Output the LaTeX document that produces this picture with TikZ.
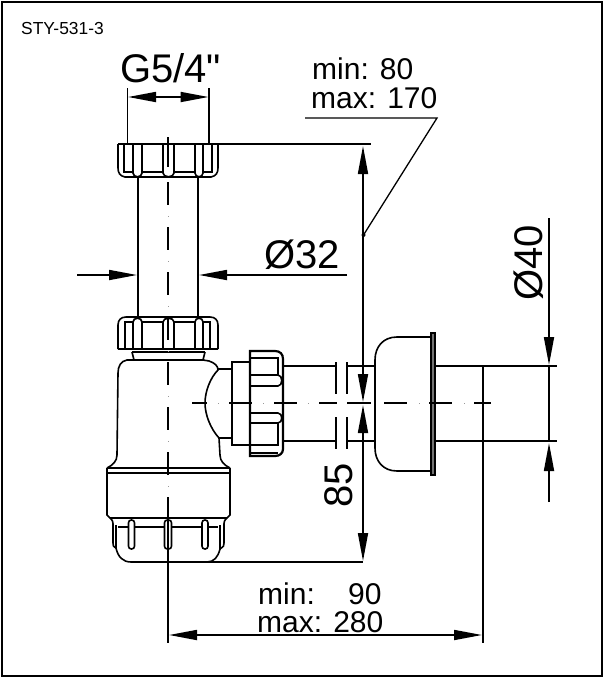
\documentclass[tikz,border=0pt]{standalone}
\usepackage{fontspec}
\setmainfont{Liberation Sans}
\newfontfamily\straightfont{Liberation Sans}
\usetikzlibrary{arrows.meta}
\tikzset{
  >={Triangle[length=28pt,width=10pt]},
  part/.style={line width=1.6pt},
  heavy/.style={line width=2.2pt},
  thinline/.style={line width=1.3pt},
  dim/.style={line width=1.7pt},
  centerline/.style={line width=1.6pt,dash pattern=on 23pt off 22pt},
  centerdots/.style={line width=0.9pt,black!40,dash pattern=on 0.9pt off 44.1pt},
  slot/.style={part,fill=white,rounded corners=2.8pt},
  label/.style={inner sep=0pt,anchor=base west},
  big/.style={label,font=\fontsize{40}{40}\selectfont},
  twolines/.style={inner sep=0pt,anchor=north west,align=left,font=\fontsize{30}{28.2}\selectfont}
}
\begin{document}
\begin{tikzpicture}[x=1pt,y=-1pt]
    \useasboundingbox (0,0) rectangle (604,678);
    \draw[line width=2pt] (2,2) rectangle (602,676);
    % labels
    \node[label,font=\fontsize{17.4}{17.4}\selectfont] (code) at (21,34) {STY-531-3};
    \node[big] (thread) at (120,82) {G5/4{\straightfont"}};
    \node[twolines] (height) at (311,58) {\kern1pt min: 80\\max: 170};
    \node[big] (dia32) at (264,268) {Ø32};
    \node[big,rotate=90] (dia40) at (542,301) {Ø40};
    \node[big,rotate=90] (height85) at (352,508) {85};
    \node[twolines] (reach) at (257,582.5) {\kern1pt min:~~~~90\\max: 280};
    % upper pipe and nut
    \draw[part] (138,177) -- (138,317);
    \draw[part] (198,177) -- (198,317);
    \draw[heavy] (118,144) -- (218,144);
    \draw[part] (118,144) -- (118,168) .. controls (118,173) and (120,176) .. (125,177) -- (211,177) .. controls (216,176) and (218,173) .. (218,168) -- (218,144);
    \draw[part] (124,144) -- (124,172) -- (133,172);
    \draw[part] (212,144) -- (212,172) -- (203,172);
    \draw[part] (133,144) -- (133,173) .. controls (133,178) and (142,178) .. (142,173) -- (142,144);
    \draw[part] (163,144) -- (163,173) .. controls (163,178) and (174,178) .. (174,173) -- (174,144);
    \draw[part] (195,144) -- (195,173) .. controls (195,178) and (203,178) .. (203,173) -- (203,144);
    \draw[part] (142,172) -- (163,172);
    \draw[part] (174,172) -- (195,172);
    % lower nut
    \draw[heavy] (118,349) -- (218,349);
    \draw[part] (118,349) -- (118,325) .. controls (118,320) and (121,317) .. (126,317) -- (210,317) .. controls (215,317) and (218,320) .. (218,325) -- (218,349);
    \draw[part] (125,349) -- (125,322) -- (133,322);
    \draw[part] (210,349) -- (210,322) -- (203,322);
    \draw[part] (133,349) -- (133,322) .. controls (133,317) and (142,317) .. (142,322) -- (142,349);
    \draw[part] (163,349) -- (163,322) .. controls (163,317) and (174,317) .. (174,322) -- (174,349);
    \draw[part] (195,349) -- (195,322) .. controls (195,317) and (203,317) .. (203,322) -- (203,349);
    \draw[part] (142,322) -- (163,322);
    \draw[part] (174,322) -- (195,322);
    % trap body
    \draw[heavy] (132,352) -- (205,352);
    \draw[part] (133,360) -- (203,360);
    \draw[part] (132,352) -- (134,360) -- (127,360) .. controls (121,361) and (118,366) .. (118,373) -- (117,455) .. controls (117,461) and (113,465) .. (107,468);
    \draw[part] (205,352) -- (203,360) -- (209,361) .. controls (215,363) and (218,366) .. (218,370) .. controls (210,378) and (205,392) .. (205,403) .. controls (205,414) and (210,428) .. (219,438) -- (220,455) .. controls (220,461) and (224,465) .. (230,468);
    \draw[part] (218,369) -- (232,369);
    \draw[part] (219,438) -- (232,438);
    % side collar and nut
    \draw[part] (250,362) -- (232,362) -- (232,445) -- (250,445);
    \draw[heavy] (250,351) -- (275,351) .. controls (280,351) and (283,354) .. (283,359) -- (283,449) .. controls (283,453) and (280,456) .. (275,456) -- (250,456) -- cycle;
    \draw[part] (250,358) -- (278,358) -- (278,375);
    \draw[part] (250,375) -- (278,375) .. controls (283,375) and (283,386) .. (278,386) -- (250,386);
    \draw[part] (250,413) -- (278,413) .. controls (283,413) and (283,423) .. (278,423) -- (250,423);
    \draw[part] (278,423) -- (278,445) -- (250,445);
    \draw[part] (250,453) -- (278,453);
    % tube to the wall
    \draw[thinline] (283,366) -- (336,366);
    \draw[thinline] (347,366) -- (375,366);
    \draw[thinline] (283,441) -- (336,441);
    \draw[thinline] (347,441) -- (375,441);
    \draw[part] (336,362) -- (336,394);
    \draw[part] (347,362) -- (347,394);
    \draw[part] (336,417) -- (336,449);
    \draw[part] (347,417) -- (347,449);
    \draw[part] (431,337) -- (397,337) .. controls (383,337) and (375,347) .. (375,360) -- (375,448) .. controls (375,461) and (383,471) .. (397,471) -- (431,471);
    \draw[part,fill=black!55] (431,333) rectangle (435,475);
    \draw[thinline] (435,366) -- (557,366);
    \draw[thinline] (435,441) -- (557,441);
    \draw[thinline] (483,366) -- (483,643);
    % cup
    \draw[heavy] (107,468) -- (230,468);
    \draw[part] (107,473) -- (230,473);
    \draw[part] (107,468) -- (107,515) -- (110,518);
    \draw[part] (230,468) -- (230,515) -- (227,518);
    \draw[part] (110,518) -- (227,518);
    \draw[part] (118,527) -- (218,527);
    \draw[part] (110,518) .. controls (113,521) .. (113,527) -- (113,543) .. controls (113,546) .. (116,548) -- (116,525);
    \draw[part] (227,518) .. controls (224,521) .. (224,527) -- (224,543) .. controls (224,546) .. (220,549) -- (220,525);
    \draw[part] (116,548) .. controls (118,557) and (123,562) .. (131,562);
    \draw[part] (220,549) .. controls (218,557) and (214,562) .. (207,562);
    \draw[heavy] (131,562) -- (207,562);
    \draw[slot] (128.5,520) rectangle (134.5,549);
    \draw[slot] (164.5,520) rectangle (171.5,549);
    \draw[slot] (202,520) rectangle (208,549);
    % centre lines
    \draw[part] (168,137) -- (168,167);
    \draw[centerline] (168,182) -- (168,475);
    \draw[centerdots] (168,216) -- (168,490);
    \draw[part] (168,497) -- (168,643);
    \draw[centerline,dash phase=8pt] (192,403) -- (337,403);
    \draw[centerdots] (218,403) -- (310,403);
    \draw[part] (347,403) -- (371,403);
    \draw[centerline] (384,403) -- (491,403);
    \draw[centerdots] (419,403) -- (470,403);
    % dimensions
    \draw[thinline] (207,562) -- (363,562);
    \draw[thinline] (218,144) -- (371,144);
    \draw[dim,<->] (363,146) -- (363,402);
    \draw[dim,<->] (363,405) -- (363,561);
    \draw[thinline] (127.5,88) -- (127.5,144);
    \draw[thinline] (209,88) -- (209,144);
    \draw[dim,<->] (128,97) -- (208.5,97);
    \draw[dim,->] (77,275) -- (137,275);
    \draw[dim,->] (347,275) -- (199,275);
    \draw[dim,->] (549,218) -- (549,365);
    \draw[dim] (549,366) -- (549,441);
    \draw[dim,->] (549,502) -- (549,443);
    \draw[dim,<->] (169,635) -- (482,635);
    % leader
    \coordinate (ledgeleft) at (305,118);
    \coordinate (ledgeright) at (437,118);
    \coordinate (ledgefoot) at (363.5,235);
    \draw[thinline] (ledgeleft) -- (ledgeright) -- (ledgefoot);
    \fill (ledgefoot) circle (2pt);
  \end{tikzpicture}
\end{document}
